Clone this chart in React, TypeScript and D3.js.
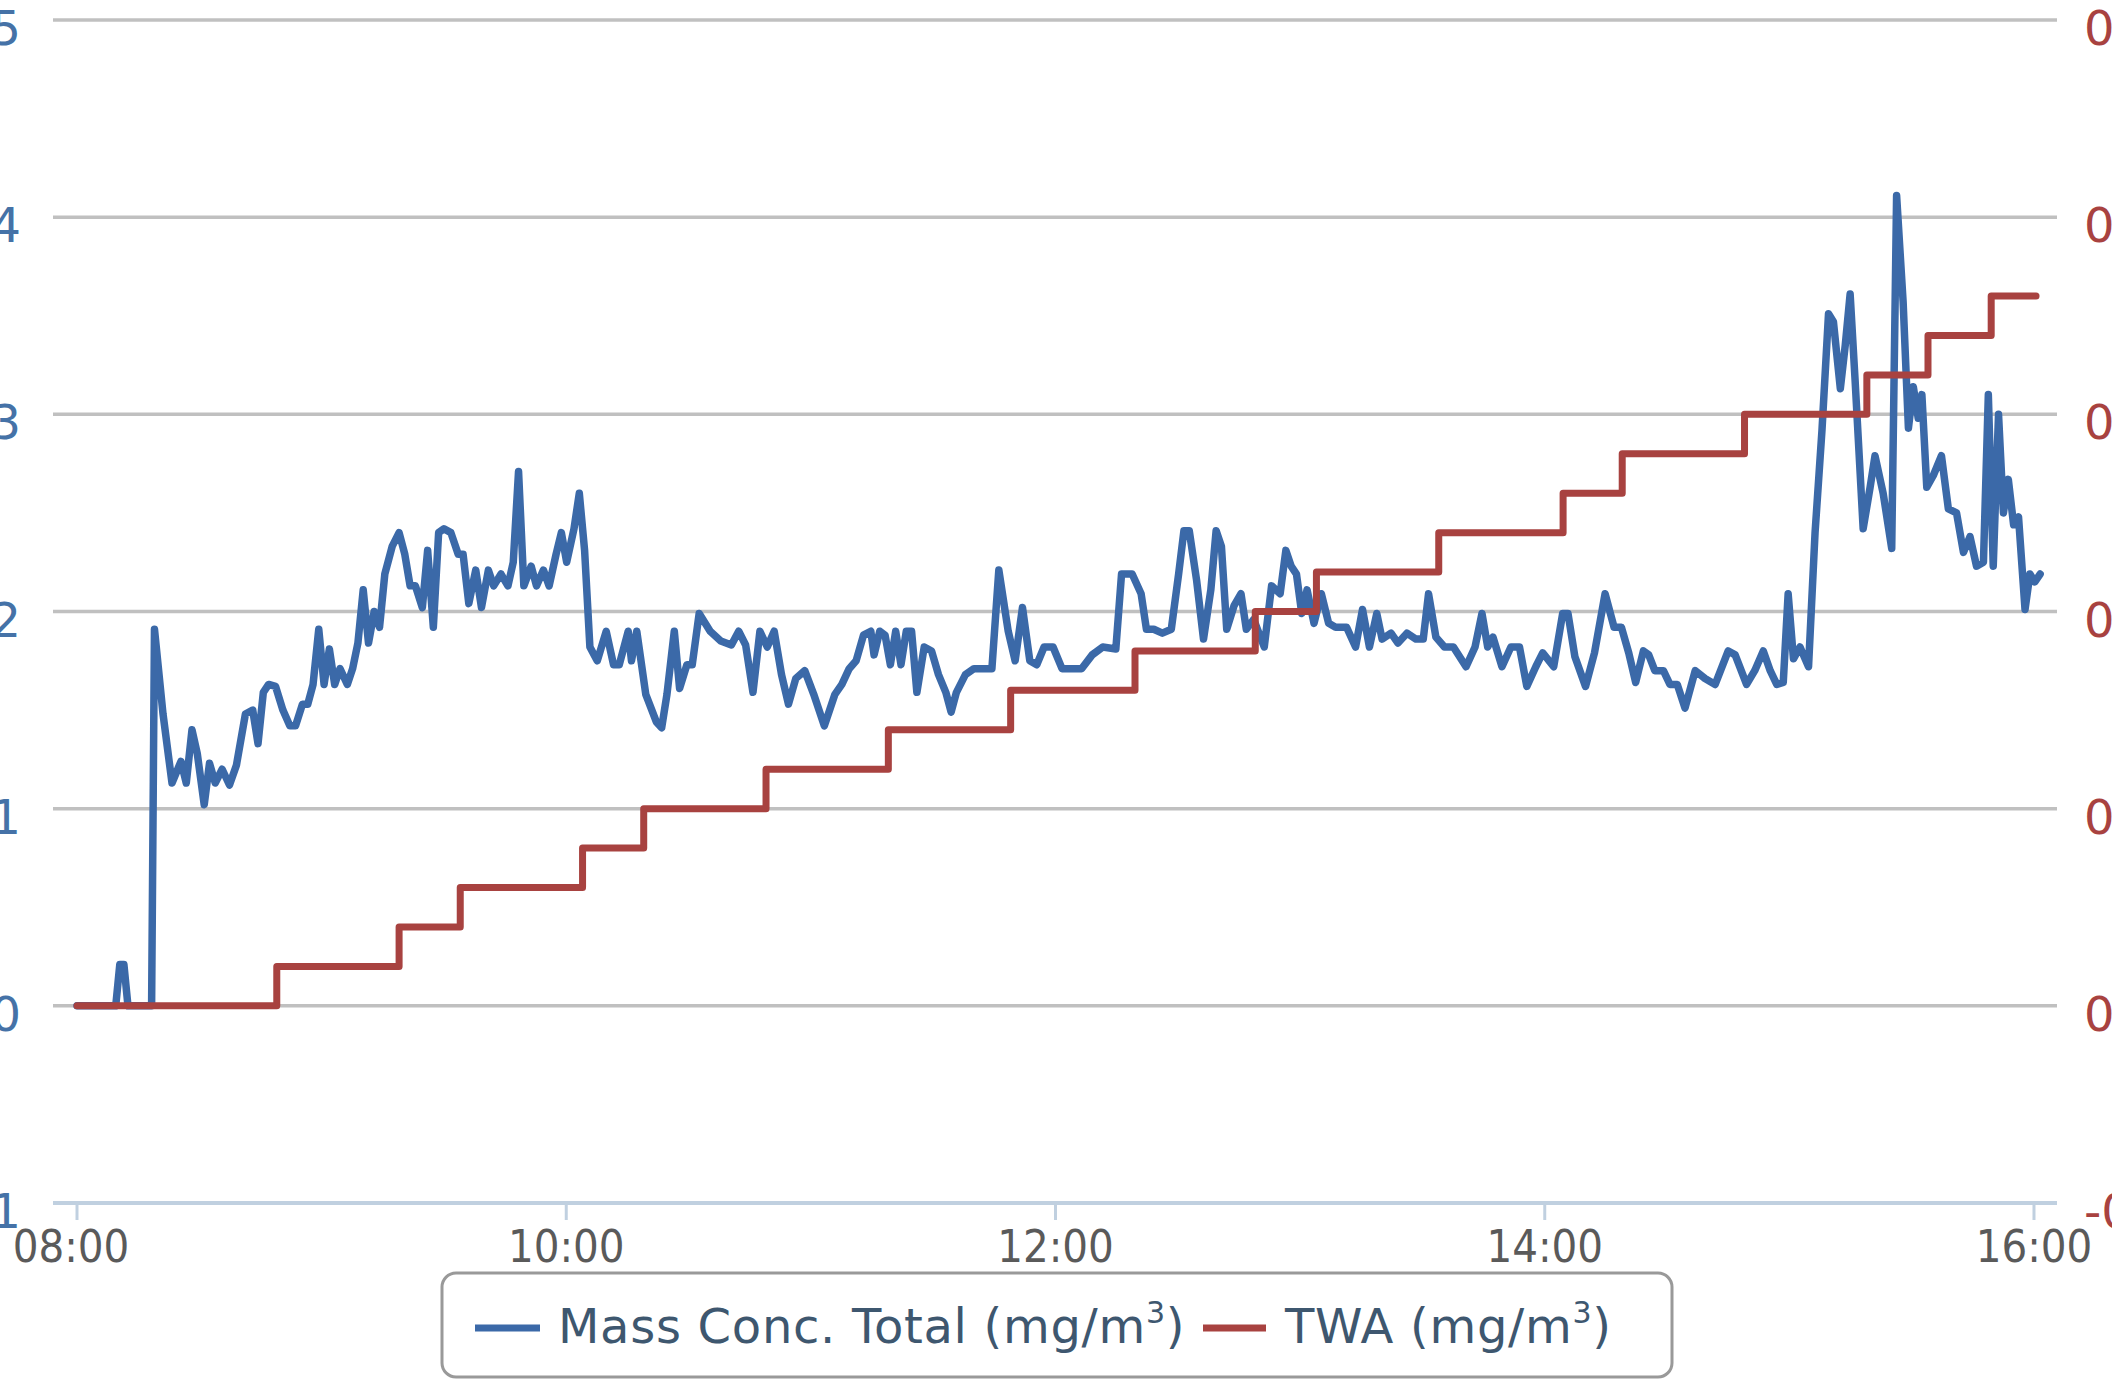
import React from 'react';
import * as d3 from 'd3';

const WIDTH = 2112;
const HEIGHT = 1381;

// Mass concentration samples: [minutes after 08:00, mg/m³]
const massConc: [number, number][] = [
  [0, 0], [6, 0], [9.5, 0], [10.5, 0.21], [11.5, 0.21], [12.5, 0], [18.3, 0], [19, 1.91],
  [21.1, 1.48], [23.3, 1.13], [25.5, 1.24], [26.8, 1.13], [28.2, 1.4], [29.5, 1.28], [31.2, 1.02],
  [32.5, 1.23], [33.9, 1.13], [35.6, 1.2], [37.4, 1.12], [39.1, 1.22], [41.3, 1.48], [43.1, 1.5],
  [44.4, 1.33], [45.7, 1.59], [47, 1.63], [48.7, 1.62], [50.5, 1.5], [52.2, 1.42], [53.6, 1.42],
  [55.3, 1.53], [56.6, 1.53], [57.9, 1.63], [59.3, 1.91], [60.6, 1.63], [61.9, 1.81], [63.2, 1.63],
  [64.5, 1.71], [66.3, 1.63], [67.6, 1.71], [68.9, 1.84], [70.2, 2.11], [71.5, 1.84], [72.9, 2.0],
  [74.2, 1.92], [75.5, 2.19], [77.3, 2.33], [79, 2.4], [80.4, 2.29], [81.7, 2.13], [83, 2.13],
  [84.7, 2.02], [86, 2.31], [87.4, 1.92], [88.7, 2.4], [90, 2.42], [91.7, 2.4], [93.5, 2.29],
  [94.7, 2.29], [96.1, 2.04], [97.8, 2.21], [99.2, 2.02], [100.9, 2.21], [102.2, 2.13], [104, 2.19],
  [105.7, 2.13], [107, 2.25], [108.3, 2.71], [109.6, 2.13], [111.4, 2.23], [112.7, 2.13], [114.4, 2.21],
  [115.8, 2.13], [117.5, 2.29], [118.8, 2.4], [120.1, 2.25], [121.9, 2.42], [123.2, 2.6], [124.5, 2.31],
  [125.8, 1.82], [127.6, 1.75], [129.8, 1.9], [131.6, 1.73], [133, 1.73], [135.2, 1.9], [136, 1.75],
  [137.3, 1.9], [139.5, 1.58], [142.1, 1.44], [143.4, 1.41], [144.7, 1.58], [146.5, 1.9], [147.8, 1.61],
  [149.6, 1.73], [150.9, 1.73], [152.6, 1.99], [155.3, 1.9], [157.9, 1.85], [160.5, 1.83], [162.3, 1.9],
  [164, 1.83], [165.8, 1.59], [167.5, 1.9], [169.3, 1.82], [171, 1.9], [172.8, 1.68], [174.5, 1.53],
  [176.3, 1.66], [178.5, 1.7], [180.7, 1.58], [183.3, 1.42], [185.9, 1.58], [187.6, 1.63], [189.4, 1.71],
  [191.1, 1.75], [192.9, 1.88], [194.7, 1.9], [195.5, 1.78], [196.9, 1.9], [198.2, 1.88], [199.5, 1.73],
  [200.8, 1.9], [202.1, 1.73], [203.4, 1.9], [204.7, 1.9], [206, 1.59], [207.8, 1.82], [209.6, 1.8],
  [211.3, 1.68], [213.1, 1.59], [214.4, 1.49], [215.7, 1.59], [217.9, 1.68], [220, 1.71], [222.2, 1.71],
  [224.4, 1.71], [226.1, 2.21], [228.4, 1.9], [230.1, 1.75], [231.9, 2.02], [233.7, 1.75], [235.4, 1.73],
  [237.2, 1.82], [239.4, 1.82], [241.6, 1.71], [243.7, 1.71], [246.4, 1.71], [249, 1.78], [251.6, 1.82],
  [254.8, 1.81], [256.2, 2.19], [258.8, 2.19], [261, 2.09], [262.3, 1.91], [264.1, 1.91], [266.2, 1.89],
  [268.4, 1.91], [270.2, 2.19], [271.5, 2.41], [272.8, 2.41], [274.6, 2.16], [276.3, 1.86], [278.1, 2.11],
  [279.4, 2.41], [280.7, 2.33], [282, 1.91], [283.8, 2.03], [285.5, 2.09], [286.8, 1.91], [288.6, 1.96],
  [291.2, 1.82], [293, 2.13], [295.1, 2.09], [296.5, 2.31], [297.8, 2.23], [299.1, 2.19], [300.4, 1.99],
  [301.7, 2.11], [303.4, 1.94], [305.2, 2.09], [307, 1.94], [308.7, 1.92], [311.4, 1.92], [313.6, 1.82],
  [315.3, 2.01], [317, 1.82], [318.8, 1.99], [320.1, 1.86], [322.3, 1.89], [324, 1.84], [326.2, 1.89],
  [328.4, 1.86], [330.2, 1.86], [331.5, 2.09], [333.3, 1.87], [335.4, 1.82], [337.6, 1.82], [340.7, 1.72],
  [342.9, 1.82], [344.6, 1.99], [346, 1.82], [347.3, 1.87], [349.5, 1.72], [351.7, 1.82], [353.8, 1.82],
  [355.6, 1.62], [357.8, 1.72], [359.5, 1.79], [362.2, 1.72], [364.4, 1.99], [365.7, 1.99], [367.4, 1.77],
  [370, 1.62], [372.2, 1.79], [374.8, 2.09], [377, 1.92], [378.8, 1.92], [380.6, 1.79], [382.3, 1.64],
  [384.2, 1.8], [385.5, 1.78], [387, 1.7], [389.1, 1.7], [390.7, 1.63], [392.5, 1.63], [394.4, 1.51],
  [396.9, 1.7], [399.3, 1.66], [401.8, 1.63], [405, 1.8], [406.7, 1.78], [409.5, 1.63], [411.5, 1.7],
  [413.6, 1.8], [415.3, 1.7], [416.9, 1.63], [418.5, 1.64], [419.7, 2.09], [421, 1.76], [422.6, 1.82],
  [424.7, 1.72], [426.3, 2.4], [428, 2.92], [429.6, 3.51], [430.8, 3.47], [432.5, 3.13], [433.7, 3.35],
  [434.9, 3.61], [436.1, 3.18], [438.1, 2.42], [439.8, 2.63], [441, 2.79], [443, 2.6], [445.1, 2.32],
  [446.3, 4.11], [447.9, 3.57], [449.2, 2.93], [450.4, 3.14], [451.6, 2.98], [452.5, 3.1], [453.7, 2.63],
  [455.3, 2.69], [457.3, 2.79], [459, 2.52], [461, 2.5], [462.7, 2.3], [464.3, 2.38], [465.9, 2.23],
  [467.6, 2.25], [468.8, 3.1], [470, 2.23], [471.3, 3.0], [472.5, 2.5], [473.7, 2.67], [475, 2.44],
  [476.2, 2.48], [477.8, 2.01], [479, 2.19], [480.2, 2.15], [481.5, 2.19],
];

// Time-weighted average: [minutes after 08:00, mg/m³], held until the next update
const twa: [number, number][] = [
  [0, 0], [49, 0.02], [79, 0.04], [94, 0.06], [124, 0.08], [139, 0.1], [169, 0.12], [199, 0.14],
  [229, 0.16], [259.5, 0.18], [289, 0.2], [304, 0.22], [334, 0.24], [364.5, 0.26], [379, 0.28],
  [409, 0.3], [439, 0.32], [454, 0.34], [469.5, 0.36], [480.5, 0.36],
];

const leftTicks = [-1, 0, 1, 2, 3, 4, 5];
const rightTicks = [-0.1, 0, 0.1, 0.2, 0.3, 0.4, 0.5];
const seriesNames = ['Mass Conc. Total (mg/m', 'TWA (mg/m'];

const BLUE = '#3b69a8';
const RED = '#a84240';
const START = new Date(2014, 0, 6, 8, 0);
const at = (m: number) => new Date(START.getTime() + m * 60000);

export default function App() {
  const x = d3.scaleTime().domain([at(0), at(480)]).range([77, 2034]);
  const yLeft = d3.scaleLinear().domain([-1, 5]).range([1203, 20]);
  const yRight = d3.scaleLinear().domain([-0.1, 0.5]).range([1203, 20]);
  const xTicks = x.ticks(d3.timeHour.every(2)!);
  const fmt = d3.timeFormat('%H:%M');
  const rightFmt = (v: number) => d3.format('.1~f')(v).replace('\u2212', '-');

  const massPath = d3
    .line<[number, number]>()
    .x((d) => x(at(d[0])))
    .y((d) => yLeft(d[1]))(massConc)!;
  const twaPath = d3
    .line<[number, number]>()
    .x((d) => x(at(d[0])))
    .y((d) => yRight(d[1]))
    .curve(d3.curveStepAfter)(twa)!;

  const font = "'DejaVu Sans', 'Lucida Grande', sans-serif";
  const plotLeft = 53;
  const plotRight = 2057;

  const legendLabel = (name: string, lx: number) => (
    <text x={lx} y={1343} fontFamily={font} fontSize={48} fill="#3e576f" letterSpacing={0.7}>
      {name}
      <tspan fontSize={30} dy={-20}>3</tspan>
      <tspan dy={20}>)</tspan>
    </text>
  );

  return (
    <svg
      width={WIDTH}
      height={HEIGHT}
      style={{ position: 'absolute', left: 0, top: 0, background: '#fff' }}
    >
      <rect x={0} y={0} width={WIDTH} height={HEIGHT} fill="#fff" />
      {/* horizontal grid */}
      {leftTicks.map((t) => (
        <line
          key={'g' + t}
          x1={plotLeft}
          x2={plotRight}
          y1={yLeft(t)}
          y2={yLeft(t)}
          stroke="#c0c0c0"
          strokeWidth={3.5}
        />
      ))}
      {/* x axis */}
      <line x1={plotLeft} x2={plotRight} y1={1203} y2={1203} stroke="#c0d0e0" strokeWidth={4} />
      {xTicks.map((t, i) => (
        <g key={'x' + t.getTime()}>
          <line x1={x(t)} x2={x(t)} y1={1203} y2={1220} stroke="#c0d0e0" strokeWidth={3} />
          <text
            x={x(t) - (i === 0 ? 6 : 0)}
            y={1262}
            textAnchor="middle"
            fontFamily="'DejaVu Sans Condensed', 'DejaVu Sans', sans-serif"
            fontStretch="condensed"
            fontSize={45}
            fill="#5a5a5a"
          >
            {fmt(t)}
          </text>
        </g>
      ))}
      {/* left axis labels */}
      {leftTicks.map((t) => (
        <text
          key={'l' + t}
          x={21}
          y={yLeft(t) + 25}
          textAnchor="end"
          fontFamily={font}
          fontSize={48}
          fill="#4572a7"
        >
          {t}
        </text>
      ))}
      {/* right axis labels */}
      {rightTicks.map((t) => (
        <text
          key={'r' + t}
          x={2084}
          y={yRight(t) + 25}
          textAnchor="start"
          fontFamily={font}
          fontSize={48}
          fill={RED}
        >
          {rightFmt(t)}
        </text>
      ))}
      {/* series */}
      <path d={massPath} fill="none" stroke={BLUE} strokeWidth={7.5} strokeLinejoin="round" strokeLinecap="round" />
      <path d={twaPath} fill="none" stroke={RED} strokeWidth={7} strokeLinejoin="round" strokeLinecap="round" />
      {/* legend */}
      <rect x={442} y={1273} width={1230} height={104} rx={14} fill="#fff" stroke="#999" strokeWidth={3} />
      <line x1={475} x2={540} y1={1328} y2={1328} stroke={BLUE} strokeWidth={7} />
      {legendLabel(seriesNames[0], 558)}
      <line x1={1203} x2={1266} y1={1328} y2={1328} stroke={RED} strokeWidth={7} />
      {legendLabel(seriesNames[1], 1285)}
    </svg>
  );
}
